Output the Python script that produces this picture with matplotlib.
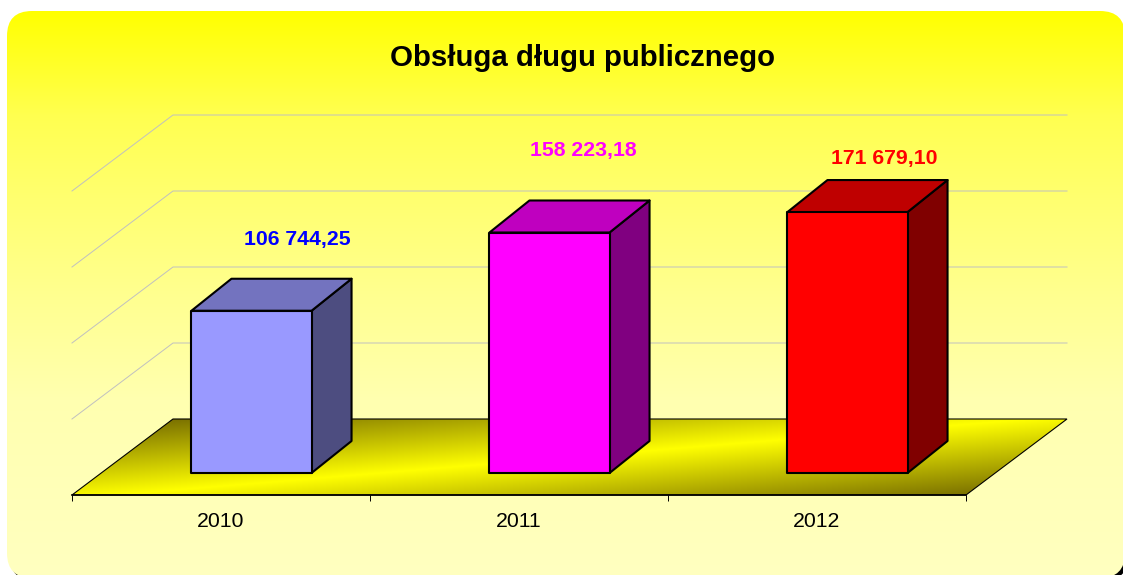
#!/usr/bin/env python3
import matplotlib
matplotlib.use("Agg")
import numpy as np
import matplotlib.pyplot as plt
from matplotlib.patches import FancyBboxPatch, Polygon
from matplotlib.transforms import IdentityTransform

YEARS = ["2010", "2011", "2012"]
VALUES = [106744.25, 158223.18, 171679.10]
VALUE_LABELS = ["106 744,25", "158 223,18", "171 679,10"]
GRID_VALUES = [50000, 100000, 150000, 200000]
TITLE = "Obsługa długu publicznego"

FRONT_COLORS = ["#9999FF", "#FF00FF", "#FF0000"]
TOP_COLORS = ["#7373BF", "#BF00BF", "#BF0000"]
SIDE_COLORS = ["#4D4D80", "#800080", "#800000"]
LABEL_COLORS = ["#0000FF", "#FF00FF", "#FF0000"]

W, H = 1123, 575
DEPTH = (101, 76)        # floor depth in pixels
BAR_DEPTH = (40, 32)
BAR_FRONT = (30.5, 22)   # bars stand a bit behind the front edge
BAR_WIDTH = 0.403
LABEL_SHIFT = [(46, 71), (34, 82), (36.5, 54)]  # pixels from the bar's top front centre

plt.rcParams["font.family"] = ["Liberation Sans", "DejaVu Sans"]

fig = plt.figure(figsize=(W / 100, H / 100), dpi=100, facecolor="white")

# background panel, in reference pixels
bg = fig.add_axes([0, 0, 1, 1], zorder=0)
bg.set_xlim(0, W)
bg.set_ylim(H, 0)
bg.axis("off")

panel_box = dict(boxstyle="round,pad=0,rounding_size=25", linewidth=0)
bg.add_patch(FancyBboxPatch((10, 20), 1118, 561, facecolor="black", **panel_box))
panel = FancyBboxPatch((7, 11), 1118, 567, facecolor="none", **panel_box)
bg.add_patch(panel)

rows = np.arange(H)
blue = np.interp(rows, [11, 115, 200, 300, 400, 575], [0, 80, 112, 145, 176, 192])
grad = np.ones((H, 1, 3))
grad[:, 0, 2] = blue / 255
im = bg.imshow(grad, extent=(0, W, H, 0), aspect="auto", zorder=1)
im.set_clip_path(panel)
bg.set_xlim(0, W)
bg.set_ylim(H, 0)

# chart area: x is the category position, y the value
ax = fig.add_axes([72 / W, (H - 495) / H, 894 / W, 380 / H], zorder=1)
ax.set_xlim(0, 3)
ax.set_ylim(0, 250000)
ax.patch.set_visible(False)
for side in ("left", "top", "right"):
    ax.spines[side].set_visible(False)
ax.spines["bottom"].set_linewidth(1.2)
ax.set_yticks([])
ax.set_xticks([0, 1, 2, 3])
ax.set_xticklabels([])
ax.tick_params(axis="x", which="major", length=4.5, width=0.7)
ax.set_xticks([0.5, 1.5, 2.5], minor=True)
ax.set_xticklabels(YEARS, minor=True, fontsize=15.3)
ax.tick_params(axis="x", which="minor", length=0, pad=12)


def pt(x, v, off=(0, 0)):
    """display position of a data point pushed back by an oblique offset"""
    px, py = ax.transData.transform((x, v))
    return px + off[0], py + off[1]


def poly(points, **kw):
    ax.add_patch(Polygon(points, closed=True, transform=IdentityTransform(), clip_on=False, **kw))


def line(points, **kw):
    xs, ys = zip(*points)
    ax.plot(xs, ys, transform=IdentityTransform(), clip_on=False, **kw)


# walls
for v in GRID_VALUES:
    p0 = pt(0, v)
    p1 = pt(0, v, DEPTH)
    p2 = pt(3, v, DEPTH)
    line([p0, p1, p2], color="#C0C0C0", lw=0.7, solid_joinstyle="miter")

# floor
floor_pts = [pt(0, 0), pt(3, 0), pt(3, 0, DEPTH), pt(0, 0, DEPTH)]
floor_clip = Polygon(floor_pts, closed=True, transform=IdentityTransform())
xx, yy = np.meshgrid(np.arange(W), np.arange(H))
band = np.abs(yy - (504 - 0.083 * xx)) / 75
band = np.clip(band, 0, 1)
shade = np.zeros((H, W, 3))
shade[..., 0] = (255 - 140 * band) / 255
shade[..., 1] = (255 - 150 * band) / 255
floor_im = bg.imshow(shade, extent=(0, W, H, 0), aspect="auto", zorder=2)
floor_im.set_clip_path(floor_clip)
bg.set_xlim(0, W)
bg.set_ylim(H, 0)
poly(floor_pts, facecolor="none", edgecolor="black", linewidth=0.8, zorder=2)

# bars
half = BAR_WIDTH / 2
for i, v in enumerate(VALUES):
    x0, x1 = i + 0.5 - half, i + 0.5 + half
    a = pt(x0, 0, BAR_FRONT)
    b = pt(x1, 0, BAR_FRONT)
    c = pt(x1, v, BAR_FRONT)
    d = pt(x0, v, BAR_FRONT)
    back = lambda p: (p[0] + BAR_DEPTH[0], p[1] + BAR_DEPTH[1])
    style = dict(edgecolor="black", linewidth=1.5, joinstyle="round", zorder=3)
    poly([b, c, back(c), back(b)], facecolor=SIDE_COLORS[i], **style)
    poly([d, c, back(c), back(d)], facecolor=TOP_COLORS[i], **style)
    poly([a, b, c, d], facecolor=FRONT_COLORS[i], **style)
    tx, ty = pt(i + 0.5, v, BAR_FRONT)
    ax.text(tx + LABEL_SHIFT[i][0], ty + LABEL_SHIFT[i][1], VALUE_LABELS[i],
            transform=IdentityTransform(), color=LABEL_COLORS[i], fontsize=15.3,
            fontweight="bold", ha="center", va="center", zorder=4)

fig.text(582 / W, (H - 58) / H, TITLE, fontsize=21.2, fontweight="bold",
         ha="center", va="center", color="black")

fig.savefig("out.png", dpi=100, facecolor="white")
